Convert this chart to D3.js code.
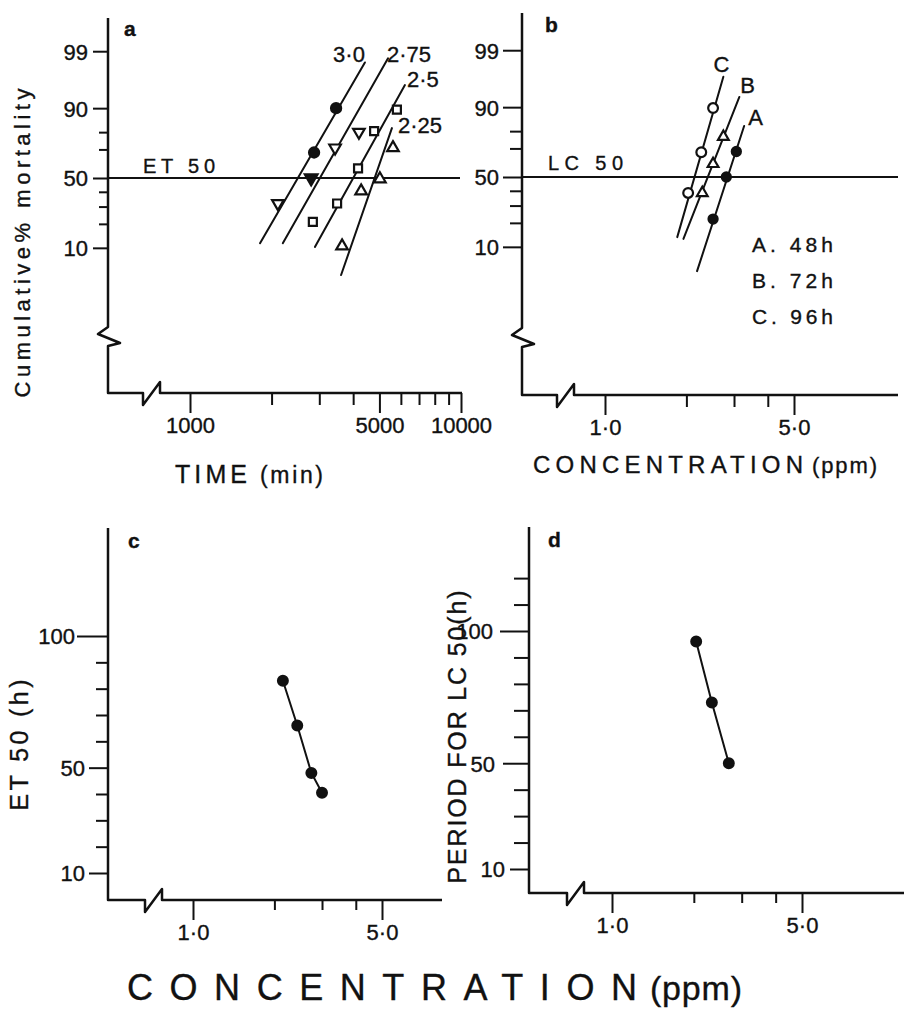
<!DOCTYPE html>
<html><head><meta charset="utf-8">
<script src="https://cdn.jsdelivr.net/npm/d3@7"></script>
<style>
html,body{margin:0;padding:0;background:#fff;}
svg{display:block;}
text{font-family:"Liberation Sans",Arial,sans-serif;fill:#111;stroke:#111;stroke-width:0.35px;}
</style></head><body>
<svg id="chart" width="904" height="1010"></svg>
<script>
// ================= DATA =================
// Panel a: cumulative % mortality vs exposure time (min), probit scale
const timeMajorTicks = [1000, 5000, 10000];
const timeMinorTicks = [2000, 3000, 4000, 6000, 7000, 8000, 9000];
const mortalityMajorTicks = [99, 90, 50, 10];
const mortalityMinorTicks = [80, 70, 40, 30, 20];
const concLabelsA = ["3·0", "2·75", "2·5", "2·25"];
// points [time(min), % mortality]
const pts30 = [[2870, 68], [3460, 90]];
const pts275 = [[2110, 32], [3430, 71], [4200, 80]];
const pts275Filled = [[2800, 50]];
const pts25 = [[2840, 21], [3490, 32], [4170, 57], [4780, 80.5], [5800, 89.5]];
const pts225 = [[3640, 10.6], [4280, 40.5], [5020, 49.3], [5610, 71]];
// fitted probit lines (end points)
const fit30 = [[1813, 11.6], [4420, 98.3]];
const fit275 = [[2200, 11.6], [5380, 98.6]];
const fit25 = [[2890, 10.3], [6210, 95.6]];
const fit225 = [[3610, 3.75], [5560, 82]];

// Panel b: cumulative % mortality vs concentration (ppm)
const concMajorTicks = [1, 5];
const concMinorTicks = [2, 3, 4];
const concTickLabels = ["1·0", "5·0"];
const seriesLabelsB = ["A", "B", "C"];
const legendB = ["A. 48h", "B. 72h", "C. 96h"];
const ptsA48 = [[2.51, 22], [2.81, 50], [3.06, 68]];
const ptsB72 = [[2.29, 38.5], [2.51, 59.5], [2.74, 77]];
const ptsC96 = [[2.03, 38.5], [2.27, 67.5], [2.51, 89.7]];
const fitA48 = [[2.19, 4.2], [3.27, 82.5]];
const fitB72 = [[1.95, 12.8], [3.14, 92.9]];
const fitC96 = [[1.85, 13.5], [2.74, 96.7]];

// Panel c: ET50 (h) vs concentration (ppm)
const hourMajorTicks = [100, 50, 10];
const hourMinorTicksC = [90, 80, 70, 60, 40, 30, 20];
const et50Conc = [2.15, 2.43, 2.74, 3.0];
const et50Hours = [83, 66, 48, 40.5];

// Panel d: period for LC50 (h) vs concentration (ppm)
const hourMinorTicksD = [120, 110, 90, 80, 70, 60, 40, 30, 20];
const lc50Conc = [2.04, 2.33, 2.69];
const lc50Hours = [96, 73, 50];

// ================= HELPERS =================
function probit(p) { // inverse standard normal CDF (Acklam)
  const a=[-3.969683028665376e+01,2.209460984245205e+02,-2.759285104469687e+02,1.383577518672690e+02,-3.066479806614716e+01,2.506628277459239e+00];
  const b=[-5.447609879822406e+01,1.615858368580409e+02,-1.556989798598866e+02,6.680131188771972e+01,-1.328068155288572e+01];
  const c=[-7.784894002430293e-03,-3.223964580411365e-01,-2.400758277161838e+00,-2.549732539343734e+00,4.374664141464968e+00,2.938163982698783e+00];
  const d=[7.784695709041462e-03,3.224671290700398e-01,2.445134137142996e+00,3.754408661907416e+00];
  const pl=0.02425, ph=1-pl; let q, r;
  if (p < pl) { q=Math.sqrt(-2*Math.log(p)); return (((((c[0]*q+c[1])*q+c[2])*q+c[3])*q+c[4])*q+c[5])/((((d[0]*q+d[1])*q+d[2])*q+d[3])*q+1); }
  if (p <= ph) { q=p-0.5; r=q*q; return (((((a[0]*r+a[1])*r+a[2])*r+a[3])*r+a[4])*r+a[5])*q/(((((b[0]*r+b[1])*r+b[2])*r+b[3])*r+b[4])*r+1); }
  q=Math.sqrt(-2*Math.log(1-p)); return -(((((c[0]*q+c[1])*q+c[2])*q+c[3])*q+c[4])*q+c[5])/((((d[0]*q+d[1])*q+d[2])*q+d[3])*q+1);
}
const pz = pct => probit(pct / 100);
const INK = "#111";
const svg = d3.select("#chart");

function frame(f) {
  const p = d3.path();
  p.moveTo(f.x0, f.top);
  if (f.yBreak) {
    p.lineTo(f.x0, f.yBreak); p.lineTo(f.x0 - 10, f.yBreak + 7);
    p.lineTo(f.x0 + 12, f.yBreak + 16); p.lineTo(f.x0, f.yBreak + 19);
  }
  p.lineTo(f.x0, f.y0); p.lineTo(f.xBreak, f.y0); p.lineTo(f.xBreak, f.y0 + 12);
  p.lineTo(f.xBreak + 17, f.y0 - 11); p.lineTo(f.xBreak + 17, f.y0); p.lineTo(f.x1, f.y0);
  svg.append("path").attr("d", p.toString()).attr("fill", "none")
    .attr("stroke", INK).attr("stroke-width", 2.5).attr("stroke-linejoin", "round");
}
function styleAxis(g, fs) {
  g.select(".domain").remove();
  g.selectAll("line").attr("stroke", INK).attr("stroke-width", 2);
  g.selectAll("text").attr("fill", INK).attr("stroke", INK).attr("stroke-width", 0.35)
    .style("font-family", '"Liberation Sans", Arial, sans-serif').style("font-size", fs + "px");
}
function yAxis(x, scale, values, len, labels, pad) {
  const g = svg.append("g").attr("transform", `translate(${x},0)`)
    .call(d3.axisLeft(scale).tickValues(values).tickSize(len).tickPadding(pad || 4)
      .tickFormat(labels ? (d, i) => labels[i] : () => ""));
  styleAxis(g, 22);
  g.selectAll("text").attr("dy", "0.36em");
}
function xAxis(y, scale, values, len, labels) {
  const g = svg.append("g").attr("transform", `translate(0,${y})`)
    .call(d3.axisBottom(scale).tickValues(values).tickSize(len).tickPadding(40 - len - 16)
      .tickFormat(labels ? (d, i) => labels[i] : () => ""));
  styleAxis(g, 22);
}
function label(x, y, str, opts) {
  const o = opts || {};
  const t = svg.append("text").attr("x", x).attr("y", y).text(str)
    .style("font-size", (o.fs || 21) + "px").attr("text-anchor", o.anchor || "start");
  if (o.len) t.attr("textLength", o.len).attr("lengthAdjust", "spacing");
  if (o.bold) t.style("font-weight", "bold");
  if (o.rot) t.attr("transform", `rotate(-90,${x},${y})`);
  return t;
}
function line2(xs, ys, pts, w) {
  svg.append("path").attr("d", d3.line().x(d => xs(d[0])).y(d => ys(d[1]))(pts))
    .attr("fill", "none").attr("stroke", INK).attr("stroke-width", w || 2).attr("stroke-linecap", "round");
}
function markers(xs, ys, pts, type, size, filled, rot) {
  svg.append("g").selectAll("path").data(pts).join("path")
    .attr("d", d3.symbol().type(type).size(size)())
    .attr("transform", d => `translate(${xs(d[0])},${ys(d[1])}) rotate(${rot || 0})`)
    .attr("fill", filled ? INK : "#fff").attr("stroke", INK).attr("stroke-width", 2.2);
}

// ================= PANEL a =================
const xA = d3.scaleLog().domain([1000, 10000]).range([190, 461]);
const yA = d3.scaleLinear().domain([0, 1]).range([178, 123.5]); // probit units
const yAp = v => yA(pz(v));
frame({x0: 108, top: 18, yBreak: 327, y0: 393, x1: 462, xBreak: 143});
yAxis(108, yA, mortalityMinorTicks.map(pz), 9, null);
yAxis(108, yA, mortalityMajorTicks.map(pz), 15, mortalityMajorTicks.map(String), 5);
xAxis(393, xA, timeMinorTicks, 12, null);
xAxis(393, xA, timeMajorTicks, 20, timeMajorTicks.map(String));
// ET50 reference line
svg.append("line").attr("x1", 108).attr("x2", 460).attr("y1", yA(pz(50))).attr("y2", yA(pz(50)))
  .attr("stroke", INK).attr("stroke-width", 2);
label(143, yA(pz(50)) - 5, "ET 50", {fs: 20, len: 72});
[fit30, fit275, fit25, fit225].forEach(f => line2(xA, yAp, f));
markers(xA, yAp, pts30, d3.symbolCircle, 80, true);
markers(xA, yAp, pts275, d3.symbolTriangle, 58, false, 180);
markers(xA, yAp, pts275Filled, d3.symbolTriangle, 70, true, 180);
markers(xA, yAp, pts25, d3.symbolSquare, 64, false);
markers(xA, yAp, pts225, d3.symbolTriangle, 58, false);
// line labels at top ends
label(xA(fit30[1][0]), yAp(fit30[1][1]), concLabelsA[0], {anchor: "end", fs: 22});
label(xA(fit275[1][0]) - 1, yAp(fit275[1][1]) + 4, concLabelsA[1], {fs: 22});
label(xA(fit25[1][0]) + 2, yAp(fit25[1][1]) + 2, concLabelsA[2], {fs: 22});
label(xA(fit225[1][0]) + 6, yAp(fit225[1][1]) + 5, concLabelsA[3], {fs: 22});
label(124, 36, "a", {fs: 21, bold: true});
label(175, 483, "TIME", {fs: 25, len: 72});
label(260, 483, "(min)", {fs: 23, len: 63});
label(30, 243, "Cumulative% mortality", {fs: 22, len: 309, anchor: "middle", rot: true});

// ================= PANEL b =================
const xB = d3.scaleLog().domain([1, 5]).range([605, 794]);
const yB = d3.scaleLinear().domain([0, 1]).range([177, 122.5]);
const yBp = v => yB(pz(v));
frame({x0: 522, top: 13, yBreak: 328, y0: 395, x1: 898, xBreak: 557});
yAxis(522, yB, mortalityMinorTicks.map(pz), 12, null);
yAxis(522, yB, mortalityMajorTicks.map(pz), 19, mortalityMajorTicks.map(String), 4);
xAxis(395, xB, concMinorTicks, 12, null);
xAxis(395, xB, concMajorTicks, 20, concTickLabels);
svg.append("line").attr("x1", 522).attr("x2", 898).attr("y1", yB(pz(50))).attr("y2", yB(pz(50)))
  .attr("stroke", INK).attr("stroke-width", 2);
label(548, yB(pz(50)) - 7, "LC 50", {fs: 20, len: 75});
[fitA48, fitB72, fitC96].forEach(f => line2(xB, yBp, f));
markers(xB, yBp, ptsA48, d3.symbolCircle, 65, true);
markers(xB, yBp, ptsB72, d3.symbolTriangle, 50, false);
markers(xB, yBp, ptsC96, d3.symbolCircle, 75, false);
label(xB(fitC96[1][0]) - 2, yBp(fitC96[1][1]) - 5, seriesLabelsB[2], {anchor: "middle", fs: 22});
label(xB(fitB72[1][0]) + 1, yBp(fitB72[1][1]) - 4, seriesLabelsB[1], {fs: 22});
label(xB(fitA48[1][0]) + 4, yBp(fitA48[1][1]) - 1, seriesLabelsB[0], {fs: 22});
legendB.forEach((s, i) => label(752, 252 + i * 36, s, {fs: 21, len: 81}));
label(545, 32, "b", {fs: 21, bold: true});
label(533, 473, "CONCENTRATION", {fs: 24, len: 270});
label(812, 473, "(ppm)", {fs: 22, len: 65});

// ================= PANEL c =================
const xC = d3.scaleLog().domain([1, 5]).range([193, 382]);
const yC = d3.scaleLinear().domain([10, 100]).range([873, 636]);
frame({x0: 108, top: 528, y0: 900, x1: 442, xBreak: 145});
yAxis(108, yC, hourMinorTicksC, 12, null);
yAxis(108, yC, [100], 31, ["100"], 2);
yAxis(108, yC, [50, 10], 19, ["50", "10"], 4);
xAxis(900, xC, concMinorTicks, 10, null);
xAxis(900, xC, concMajorTicks, 20, concTickLabels);
line2(xC, yC, d3.zip(et50Conc, et50Hours));
markers(xC, yC, d3.zip(et50Conc, et50Hours), d3.symbolCircle, 75, true);
label(128, 548, "c", {fs: 21, bold: true});
label(28, 745, "ET 50 (h)", {fs: 25, len: 131, anchor: "middle", rot: true});

// ================= PANEL d =================
const xD = d3.scaleLog().domain([1, 5]).range([612, 802]);
const yD = d3.scaleLinear().domain([10, 100]).range([869, 631]);
frame({x0: 529, top: 527, y0: 893, x1: 904, xBreak: 567});
yAxis(529, yD, hourMinorTicksD, 15, null);
yAxis(529, yD, [100], 29, ["100"], 7);
yAxis(529, yD, [50], 26, ["50"], 8);
yAxis(529, yD, [10], 19, ["10"], 5);
xAxis(893, xD, concMinorTicks, 10, null);
xAxis(893, xD, concMajorTicks, 20, concTickLabels);
line2(xD, yD, d3.zip(lc50Conc, lc50Hours));
markers(xD, yD, d3.zip(lc50Conc, lc50Hours), d3.symbolCircle, 75, true);
label(548, 547, "d", {fs: 21, bold: true});
label(466, 737, "PERIOD FOR LC 50(h)", {fs: 25, len: 293, anchor: "middle", rot: true});

// ================= shared x title =================
label(127, 1000, "CONCENTRATION", {fs: 36, len: 510});
label(650, 1000, "(ppm)", {fs: 34, len: 92});
</script>
</body></html>
